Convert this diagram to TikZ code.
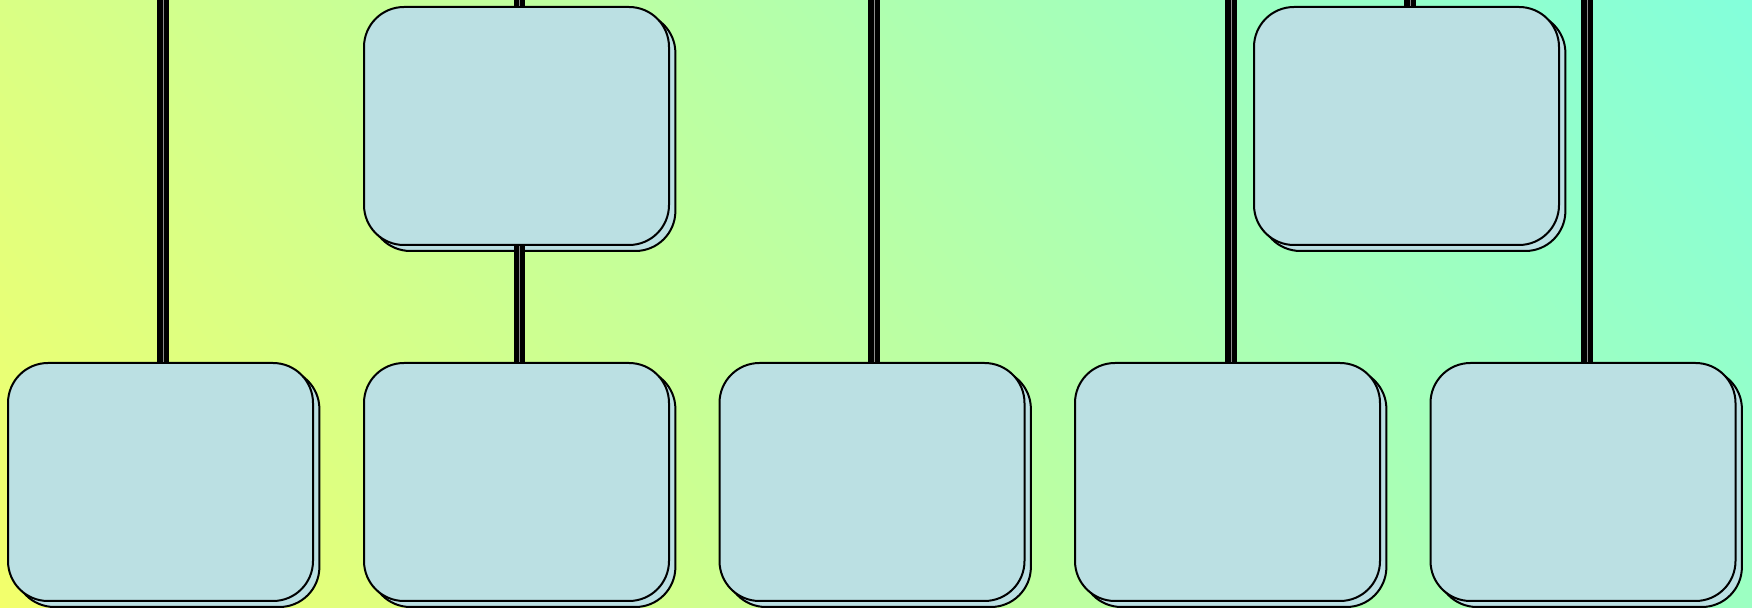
\documentclass[tikz,border=0pt]{standalone}
\usepackage{tikz}
\usetikzlibrary{calc,shadows}
\usepackage{xcolor}
\definecolor{bgl}{RGB}{244,255,106}
\definecolor{bgr}{RGB}{130,255,220}
\definecolor{cardc}{RGB}{187,224,227}
\pgfdeclareverticalshading{bgfade}{100bp}{color(0bp)=(bgl); color(14bp)=(bgl); color(86bp)=(bgr); color(100bp)=(bgr)}
\tikzset{
  card/.style={rectangle,rounded corners=20pt,draw=black,fill=cardc,line width=1pt,
    minimum width=152.5pt,minimum height=119pt,inner sep=0pt,
    copy shadow={shadow xshift=3.2pt,shadow yshift=-3pt}},
  link/.style={line width=2.8pt,draw=black,double=black!45,double distance=0.35pt},
}

\begin{document}
\begin{tikzpicture}[x=0.5pt,y=-0.5pt]
  \useasboundingbox (0,0) rectangle (1752,608);
  \shade[shading=bgfade,shading angle=-50] (0,0) rectangle (1752,608);
  % bottom row
  \foreach \i/\x in {1/160.5,2/516.5,3/872,4/1227.5,5/1583}{
     \node[card] (b\i) at (\x,482) {};}
  % top row
  \node[card] (t1) at (516.5,126) {};
  \node[card] (t2) at (1406.5,126) {};
  % links from above
  \foreach \i/\x in {1/163,3/874,4/1231,5/1587}{
     \coordinate (s\i) at (\x,0);
     \draw[link] (s\i) -- (s\i |- b\i.north);}
  \coordinate (u1) at (519.5,0);
  \coordinate (u2) at (1410,0);
  \draw[link] (u1) -- (u1 |- t1.north);
  \draw[link] (u2) -- (u2 |- t2.north);
  \draw[link] ([xshift=1.5pt]t1.south) -- ([xshift=1.5pt]b2.north);
\end{tikzpicture}
\end{document}
